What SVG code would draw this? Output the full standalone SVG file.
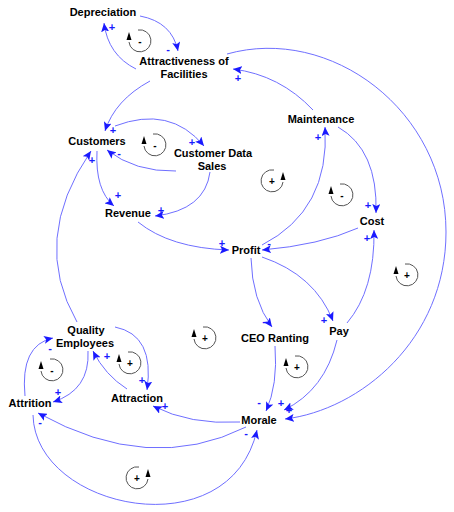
<svg xmlns="http://www.w3.org/2000/svg" width="454" height="512" viewBox="0 0 454 512">
<defs>
<style>
.n{font-family:"Liberation Sans",Arial,sans-serif;font-weight:bold;font-size:11px;fill:#000;text-anchor:middle}
.c{fill:none;stroke:#6f6fff;stroke-width:1;marker-end:url(#ah)}
.s{font-family:"Liberation Sans",Arial,sans-serif;font-weight:bold;font-size:11px;fill:#1a1aff;text-anchor:middle}
.ls{font-family:"Liberation Sans",Arial,sans-serif;font-weight:bold;font-size:10px;fill:#000;text-anchor:middle}
.lc{fill:none;stroke:#555;stroke-width:1}
</style>
<marker id="ah" markerUnits="userSpaceOnUse" markerWidth="10" markerHeight="8" refX="9" refY="4" orient="auto">
<path d="M0,0 L9,4 L0,8 L2,4 z" fill="#1a1aff"/>
</marker>
<g id="loopL">
<path class="lc" d="M-2,-11 A11,11 0 1 1 -11,1"/>
<path d="M-11,-9 L-13.5,-1 L-8.5,-1 z" fill="#000"/>
</g>
</defs>

<g id="connectors">
<path class="c" d="M140,16 Q172,22 178,51"/>
<path class="c" d="M136,69 Q108,55 104,23"/>
<path class="c" d="M313,110 Q280,75 233,69"/>
<path class="c" d="M227,54 C330,25 446,110 446,232 C446,340 360,410 285,419"/>
<path class="c" d="M150,81 Q115,100 105,131"/>
<path class="c" d="M115,126 Q170,105 204,146"/>
<path class="c" d="M176,171 Q135,172 107,150"/>
<path class="c" d="M97,151 Q95,190 114,206"/>
<path class="c" d="M210,172 Q205,210 155,216"/>
<path class="c" d="M138,222 Q170,248 229,250"/>
<path class="c" d="M358,228 Q320,245 262,250"/>
<path class="c" d="M262,245 Q330,210 325,127"/>
<path class="c" d="M338,127 Q378,150 376,213"/>
<path class="c" d="M347,323 Q375,290 374,230"/>
<path class="c" d="M262,257 Q315,275 333,321"/>
<path class="c" d="M251,258 Q252,300 272,327"/>
<path class="c" d="M275,346 Q278,385 266,411"/>
<path class="c" d="M337,340 Q325,390 284,410"/>
<path class="c" d="M240,422 Q190,425 153,406"/>
<path class="c" d="M115,327 Q155,335 147,390"/>
<path class="c" d="M127,389 Q105,375 93,351"/>
<path class="c" d="M88,351 Q90,390 53,402"/>
<path class="c" d="M25,396 Q20,345 53,338"/>
<path class="c" d="M246,427 Q150,475 38,413"/>
<path class="c" d="M33,415 C35,510 230,550 257,430"/>
<path class="c" d="M77,322 Q30,240 91,151"/>
</g>

<g id="signs">
<text class="s" x="168" y="53">-</text>
<text class="s" x="112" y="31">+</text>
<text class="s" x="238" y="82">+</text>
<text class="s" x="113" y="134">+</text>
<text class="s" x="192" y="146">+</text>
<text class="s" x="119" y="157">-</text>
<text class="s" x="118" y="199">+</text>
<text class="s" x="161" y="214">+</text>
<text class="s" x="222" y="247">+</text>
<text class="s" x="269" y="247">-</text>
<text class="s" x="318" y="141">+</text>
<text class="s" x="368" y="209">+</text>
<text class="s" x="367" y="242">+</text>
<text class="s" x="324" y="324">+</text>
<text class="s" x="264" y="325">-</text>
<text class="s" x="259" y="406">-</text>
<text class="s" x="281" y="407">+</text>
<text class="s" x="289" y="414">+</text>
<text class="s" x="165" y="410">+</text>
<text class="s" x="142" y="384">+</text>
<text class="s" x="107" y="360">+</text>
<text class="s" x="58" y="396">+</text>
<text class="s" x="50" y="352">-</text>
<text class="s" x="40" y="426">-</text>
<text class="s" x="246" y="437">-</text>
<text class="s" x="92" y="164">+</text>
</g>

<g id="loops">
<g transform="translate(140,41)"><use href="#loopL"/><text class="ls" x="0" y="4">-</text></g>
<g transform="translate(155,145)"><use href="#loopL"/><text class="ls" x="0" y="4">-</text></g>
<g transform="translate(342,195)"><use href="#loopL"/><text class="ls" x="0" y="4">-</text></g>
<g transform="translate(272,181)"><use href="#loopL" transform="scale(-1,1)"/><text class="ls" x="0" y="4">+</text></g>
<g transform="translate(407,275)"><use href="#loopL"/><text class="ls" x="0" y="4">+</text></g>
<g transform="translate(297,367)"><use href="#loopL"/><text class="ls" x="0" y="4">+</text></g>
<g transform="translate(205,338)"><use href="#loopL"/><text class="ls" x="0" y="4">+</text></g>
<g transform="translate(130,363)"><use href="#loopL"/><text class="ls" x="0" y="4">+</text></g>
<g transform="translate(52,370)"><use href="#loopL"/><text class="ls" x="0" y="4">-</text></g>
<g transform="translate(137,478)"><use href="#loopL" transform="scale(-1,1)"/><text class="ls" x="0" y="4">+</text></g>
</g>

<g id="depreciation"><text class="n" x="103" y="16">Depreciation</text></g>
<g id="attractiveness"><text class="n" x="184" y="65">Attractiveness of</text><text class="n" x="184" y="78">Facilities</text></g>
<g id="customers"><text class="n" x="97" y="145">Customers</text></g>
<g id="customer-data-sales"><text class="n" x="213" y="157">Customer Data</text><text class="n" x="212" y="170">Sales</text></g>
<g id="revenue"><text class="n" x="128" y="217">Revenue</text></g>
<g id="maintenance"><text class="n" x="321" y="123">Maintenance</text></g>
<g id="cost"><text class="n" x="372" y="225">Cost</text></g>
<g id="profit"><text class="n" x="246" y="254">Profit</text></g>
<g id="pay"><text class="n" x="339" y="335">Pay</text></g>
<g id="ceo-ranting"><text class="n" x="275" y="342">CEO Ranting</text></g>
<g id="quality-employees"><text class="n" x="86" y="334">Quality</text><text class="n" x="85" y="347">Employees</text></g>
<g id="attrition"><text class="n" x="30" y="407">Attrition</text></g>
<g id="attraction"><text class="n" x="137" y="402">Attraction</text></g>
<g id="morale"><text class="n" x="259" y="424">Morale</text></g>
</svg>
